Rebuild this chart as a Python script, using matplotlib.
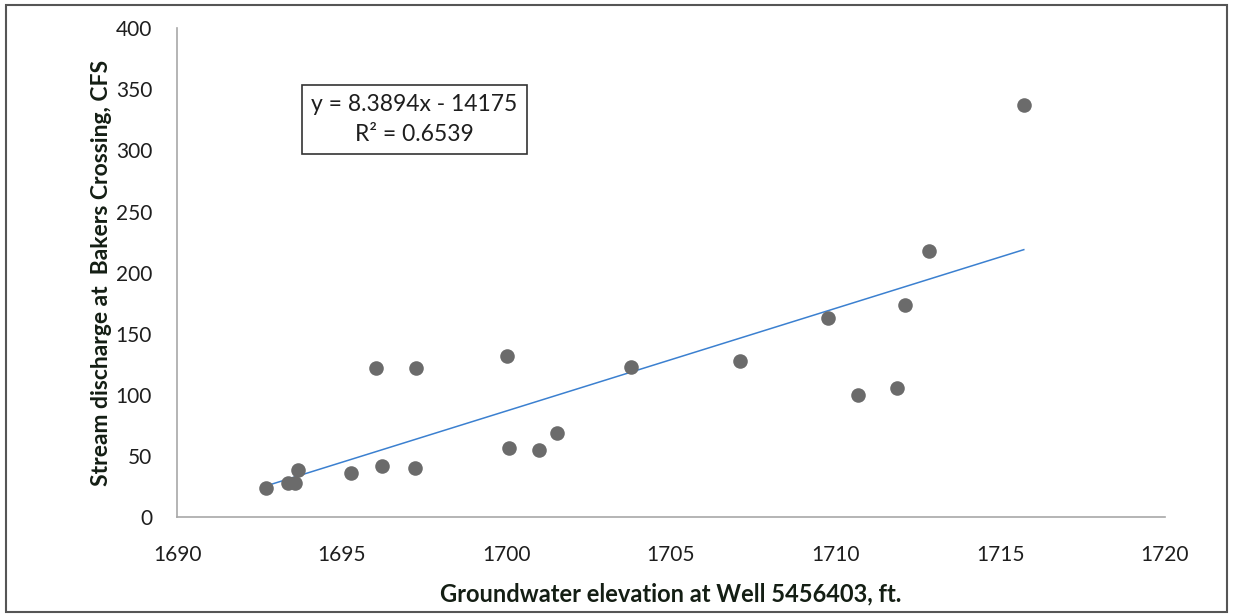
import matplotlib
matplotlib.use('Agg')
import matplotlib.pyplot as plt
from matplotlib.patches import Rectangle

# groundwater elevation (ft) vs stream discharge (CFS)
elev = [1692.70, 1693.36, 1693.59, 1693.66, 1695.29, 1696.05, 1696.22, 1697.26,
        1697.22, 1700.01, 1700.09, 1701.00, 1701.53, 1703.78, 1707.11, 1709.78,
        1710.68, 1711.88, 1712.10, 1712.84, 1715.72]
flow = [24, 28, 28, 39, 36, 122, 42, 122,
        40, 132, 57, 55, 69, 123, 128, 163,
        100, 106, 174, 218, 337]

slope = 8.3894
intercept = -14175
r2 = 0.6539

xticks = [1690, 1695, 1700, 1705, 1710, 1715, 1720]
yticks = [0, 50, 100, 150, 200, 250, 300, 350, 400]

plt.rcParams['font.family'] = ['Lato', 'DejaVu Sans']

fig = plt.figure(figsize=(12.33, 6.16), dpi=100)
ax = fig.add_axes([0.1436, 0.16, 0.801, 0.7945])

ax.scatter(elev, flow, s=110, color='#6b6b6b', zorder=3, linewidths=0)
x0, x1 = min(elev), max(elev)
ax.plot([x0, x1], [slope * x0 + intercept, slope * x1 + intercept],
        color='#3b80d0', lw=1.1, zorder=2)

ax.set_xlim(1690, 1720)
ax.set_ylim(0, 400)
ax.set_xticks(xticks)
ax.set_yticks(yticks)
ax.tick_params(length=0, labelsize=15, colors='#1e1e1e')
ax.tick_params(axis='x', pad=20)
ax.tick_params(axis='y', pad=18)

for s in ['top', 'right']:
    ax.spines[s].set_visible(False)
for s in ['left', 'bottom']:
    ax.spines[s].set_color('#a8a8a8')
    ax.spines[s].set_linewidth(1.2)

ax.set_xlabel('Groundwater elevation at Well 5456403, ft.', fontsize=17,
              fontweight='bold', color='#141e14', va='center')
ax.set_ylabel('Stream discharge at  Bakers Crossing, CFS', fontsize=16.5,
              fontweight='bold', color='#141e14', va='center')
ax.xaxis.set_label_coords(0.5, -0.156)
ax.yaxis.set_label_coords(-0.076, 0.5)

ax.text(0.2404, 0.813, 'y = %.4fx - %d\nR² = %.4f' % (slope, -intercept, r2),
        transform=ax.transAxes, ha='center', va='center', fontsize=16.5,
        color='#1e1e1e', linespacing=1.5,
        bbox=dict(boxstyle='square,pad=0.4', fc='white', ec='#333333', lw=1.2))

fig.patches.append(Rectangle((0.005, 0.006), 0.99, 0.986, transform=fig.transFigure,
                             fill=False, ec='#555555', lw=1.5))

fig.savefig('out.png', dpi=100)
